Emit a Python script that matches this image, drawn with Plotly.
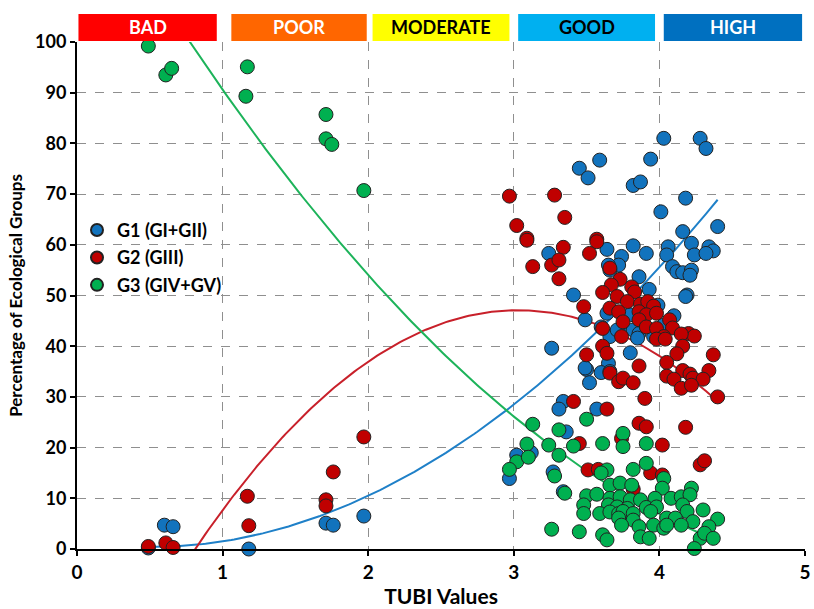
import numpy as np
import plotly.graph_objects as go

# ---- data ----
g1_x = [0.49, 0.60, 0.66, 1.18, 1.71, 1.76, 1.97, 4.03, 4.28, 4.32, 3.59, 3.45, 3.51, 3.94, 3.82, 3.87,
        4.18, 4.01, 4.16, 4.40, 3.24, 3.64, 3.82, 3.91, 3.74, 3.72, 3.65, 3.66, 4.06, 4.05, 4.22, 4.24,
        4.34, 4.37, 4.32, 4.09, 4.12, 4.16, 4.22, 4.21, 3.86, 3.93, 4.19, 4.18, 3.41, 3.99, 3.64, 4.10,
        3.80, 3.49, 3.60, 3.74, 3.82, 3.86, 4.03, 3.66, 3.96, 3.71, 3.26, 3.80, 3.65, 3.50, 3.60, 3.52,
        3.34, 3.31, 3.57, 3.36, 3.02, 3.12, 2.97, 3.27, 3.34, 3.49, 3.66, 3.85]
g1_y = [0.2, 4.7, 4.4, 0.0, 5.1, 4.7, 6.5, 81.0, 81.0, 79.0, 76.7, 75.1, 73.2, 76.9, 71.7, 72.4,
        69.2, 66.5, 62.6, 63.6, 58.3, 59.1, 59.8, 58.3, 57.7, 56.0, 56.0, 55.0, 59.6, 58.0, 60.3, 58.0,
        59.6, 58.8, 58.3, 55.7, 54.7, 54.5, 55.0, 54.0, 53.7, 51.2, 50.1, 49.8, 50.1, 48.1, 46.5, 46.0,
        46.2, 45.2, 43.8, 43.5, 43.2, 42.5, 44.2, 41.9, 41.9, 43.2, 39.6, 38.7, 36.6, 35.4, 34.8, 32.8,
        29.1, 27.6, 27.6, 23.1, 18.5, 19.0, 13.9, 15.2, 11.3, 35.7, 35.0, 41.6]

g2_x = [0.49, 0.61, 0.66, 1.17, 1.18, 1.71, 1.71, 1.76, 1.97, 2.97, 3.28, 3.35, 3.02, 3.09, 3.09, 3.57,
        3.34, 3.57, 3.52, 3.13, 3.26, 3.31, 3.31, 3.66, 3.73, 3.67, 3.61, 3.71, 3.81, 3.83, 3.48, 3.66,
        3.78, 3.87, 3.92, 3.96, 3.72, 3.86, 3.91, 3.98, 3.75, 3.86, 3.91, 3.98, 4.07, 4.09, 4.20, 4.24,
        3.61, 4.03, 3.74, 3.98, 4.04, 4.15, 4.16, 4.12, 3.61, 3.64, 3.50, 3.86, 4.05, 4.37, 4.34, 4.16,
        4.21, 4.05, 4.10, 4.23, 4.30, 4.15, 4.22, 3.66, 3.72, 3.75, 3.82, 4.40, 3.90, 3.41, 3.64, 3.86,
        3.91, 4.18, 3.45, 3.74, 4.02, 3.51, 3.58, 3.94, 4.02, 3.82, 4.28, 4.31]
g2_y = [0.5, 1.2, 0.3, 10.4, 4.6, 9.7, 8.5, 15.2, 22.1, 69.6, 69.8, 65.4, 63.8, 61.3, 60.9, 61.1,
        59.5, 60.6, 58.3, 55.7, 56.0, 57.0, 53.3, 55.4, 53.2, 52.1, 50.6, 49.8, 51.7, 50.7, 47.8, 47.5,
        48.8, 48.3, 48.8, 47.9, 46.8, 46.8, 46.2, 46.5, 44.8, 45.2, 43.8, 43.5, 45.2, 43.6, 42.5, 42.0,
        43.5, 41.9, 41.9, 41.4, 41.4, 42.4, 40.0, 38.5, 40.0, 38.6, 38.3, 36.1, 36.8, 38.3, 35.2, 35.2,
        34.5, 34.1, 33.5, 33.7, 33.5, 31.7, 32.3, 34.7, 33.0, 33.7, 32.8, 30.0, 29.7, 29.1, 27.6, 24.8,
        24.1, 24.0, 20.8, 21.8, 20.5, 15.6, 15.7, 15.0, 14.6, 11.8, 16.6, 17.4]

g3_x = [0.49, 0.61, 0.65, 1.17, 1.16, 1.71, 1.71, 1.75, 1.97, 3.13, 3.31, 3.50, 3.75, 3.09, 3.02, 2.97,
        3.10, 3.24, 3.31, 3.28, 3.35, 3.26, 3.45, 3.61, 3.75, 3.91, 3.41, 3.64, 3.60, 3.82, 3.91, 4.03,
        3.66, 3.73, 3.81, 4.02, 4.22, 3.50, 3.57, 3.66, 3.73, 3.80, 3.87, 3.97, 4.08, 4.15, 4.21, 3.48,
        3.65, 3.71, 3.78, 3.91, 3.98, 4.16, 3.48, 3.59, 3.66, 3.72, 3.75, 3.82, 3.94, 4.19, 4.30, 3.72,
        3.82, 4.05, 4.11, 4.23, 4.40, 3.74, 3.86, 3.96, 4.03, 4.05, 4.15, 4.34, 3.61, 3.64, 3.87, 3.93,
        4.28, 4.31, 4.37, 4.24]
g3_y = [99.2, 93.5, 94.8, 95.1, 89.3, 85.7, 80.9, 79.8, 70.7, 24.6, 23.5, 25.6, 22.8, 20.7, 17.2, 15.7,
        18.1, 20.5, 18.5, 14.4, 11.0, 3.9, 3.4, 20.8, 20.2, 20.8, 20.3, 15.6, 15.0, 15.7, 16.9, 13.9,
        12.6, 13.0, 12.6, 12.0, 12.0, 10.5, 10.8, 10.0, 10.3, 9.7, 9.7, 10.0, 10.0, 10.3, 10.7, 8.7,
        8.7, 8.3, 8.0, 8.2, 8.3, 8.7, 7.0, 7.0, 7.3, 7.0, 7.4, 7.0, 7.4, 7.4, 7.7, 6.1,
        5.7, 6.1, 6.1, 5.4, 5.9, 4.7, 4.4, 4.7, 4.1, 4.7, 4.7, 4.4, 2.8, 1.8, 2.4, 2.1,
        2.1, 3.1, 2.1, 0.1]

series_names = ["G1 (GI+GII)", "G2 (GIII)", "G3 (GIV+GV)"]
marker_colors = ["#1273BD", "#C00000", "#00B050"]
line_colors = ["#1F80C8", "#C8202A", "#1DB35A"]

band_labels = ["BAD", "POOR", "MODERATE", "GOOD", "HIGH"]
band_start = [0.01, 1.06, 2.03, 3.03, 4.03]
band_end = [0.96, 1.99, 2.97, 3.97, 4.98]
band_colors = ["#FF0000", "#FF6600", "#FFFF00", "#00B0F0", "#0070C0"]
band_text = ["white", "white", "black", "black", "white"]

x_ticks = [0, 1, 2, 3, 4, 5]
y_ticks = [0, 10, 20, 30, 40, 50, 60, 70, 80, 90, 100]

FONT = "Lato, 'Open Sans', sans-serif"

fig = go.Figure()

series = [(g1_x, g1_y), (g2_x, g2_y), (g3_x, g3_y)]

# trend lines (2nd-order polynomial fits of each group)
for (sx, sy), name, lc in zip(series, series_names, line_colors):
    coef = np.polyfit(sx, sy, 2)
    xs = np.linspace(min(sx), max(sx), 200)
    fig.add_trace(go.Scatter(x=xs, y=np.polyval(coef, xs), mode="lines",
                             line=dict(color=lc, width=2), showlegend=False,
                             hoverinfo="skip"))

for i, ((sx, sy), name, mc) in enumerate(zip(series, series_names, marker_colors)):
    fig.add_trace(go.Scatter(x=sx, y=sy, mode="markers", name="<b>" + name + "</b>",
                             legendgroup=name,
                             marker=dict(color=mc, size=14,
                                         line=dict(color="#222222", width=1)),
                             cliponaxis=False))

shapes = []
annotations = []
for lab, x0, x1, bc, tc in zip(band_labels, band_start, band_end, band_colors, band_text):
    shapes.append(dict(type="rect", xref="x", yref="paper", x0=x0, x1=x1, y0=1.002, y1=1.055,
                       fillcolor=bc, line=dict(width=0), layer="above"))
    annotations.append(dict(xref="x", yref="paper", x=(x0 + x1) / 2, y=1.029, text="<b>" + lab + "</b>",
                            showarrow=False, font=dict(family=FONT, size=18, color=tc),
                            xanchor="center", yanchor="middle"))

fig.update_layout(
    width=814, height=609,
    margin=dict(l=77, r=9, t=42, b=60),
    paper_bgcolor="white", plot_bgcolor="white",
    font=dict(family=FONT, color="black"),
    shapes=shapes, annotations=annotations,
    showlegend=True,
    legend=dict(x=0.0, y=0.665, xanchor="left", yanchor="top",
                bgcolor="rgba(0,0,0,0)", font=dict(family=FONT, size=18, color="black"),
                tracegroupgap=1, itemsizing="constant"),
    xaxis=dict(range=[0, 5], tickvals=x_ticks, ticktext=["<b>%d</b>" % v for v in x_ticks],
               showgrid=True, gridcolor="#8f8f8f", griddash="dash", gridwidth=1,
               showline=True, linecolor="black", linewidth=2,
               ticks="outside", ticklen=5, tickwidth=2, tickcolor="black",
               tickfont=dict(family=FONT, size=19, color="black"),
               title=dict(text="<b>TUBI Values</b>", font=dict(family=FONT, size=21), standoff=8),
               zeroline=False, automargin=False),
    yaxis=dict(range=[0, 100], tickvals=y_ticks, ticktext=["<b>%d</b>" % v for v in y_ticks],
               showgrid=True, gridcolor="#8f8f8f", griddash="dash", gridwidth=1,
               showline=True, linecolor="black", linewidth=2,
               ticks="outside", ticklen=5, tickwidth=2, tickcolor="black",
               tickfont=dict(family=FONT, size=18, color="black"),
               title=dict(text="<b>Percentage of Ecological Groups</b>", font=dict(family=FONT, size=17),
                          standoff=8),
               zeroline=False, automargin=False),
)

fig.write_html("out.html")
